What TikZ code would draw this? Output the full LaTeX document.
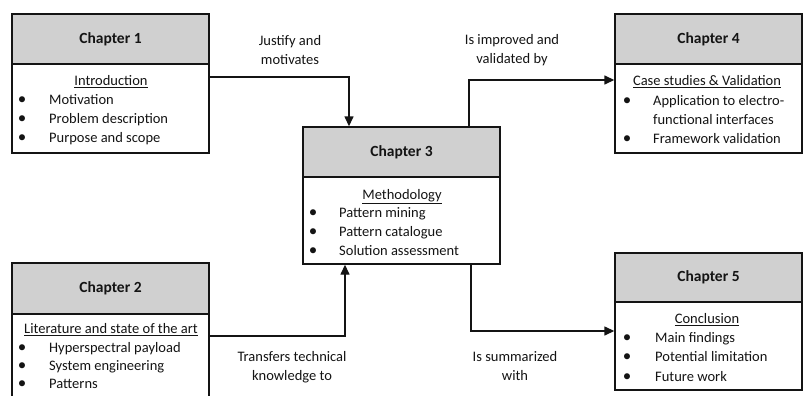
\documentclass[tikz,border=0pt]{standalone}
\usepackage{fontspec}
\setmainfont{Carlito}
\usetikzlibrary{arrows.meta}
\definecolor{headgray}{RGB}{208,208,208}
\definecolor{ink}{RGB}{20,20,20}
\begin{document}
\begin{tikzpicture}[x=1pt,y=-1pt,
  every node/.style={text=ink},
  box/.style={draw=ink, line width=1.4pt, inner sep=0pt},
  head/.style={box, fill=headgray, font=\fontsize{15.5}{18}\selectfont\bfseries},
  body/.style={box, fill=white},
  item/.style={anchor=mid west, inner sep=0pt, yshift=-2pt, font=\fontsize{14.5}{17}\selectfont},
  dot/.style={anchor=mid, inner sep=0pt, yshift=-2pt, font=\fontsize{17}{17}\selectfont},
  title/.style={anchor=mid, inner sep=0pt, yshift=-2pt, font=\fontsize{14.5}{17}\selectfont},
  lbl/.style={align=center, inner sep=0pt, font=\fontsize{14.5}{19}\selectfont},
  arr/.style={draw=ink, line width=1.4pt, -{Triangle[length=10pt,width=9pt]}}]
\clip (0,0) rectangle (803,396);
\fill[white] (0,0) rectangle (803,396);

% Chapter 1
\node[head, minimum width=197, minimum height=50] (c1h) at (110.5,39) {Chapter 1};
\node[body, minimum width=197, minimum height=89] (c1b) at (110.5,108.5) {};
\node[title] (c1t) at (111,81) {\underline{Introduction}};
\node[dot] (c1d1) at (22,100) {•}; \node[item] (c1i1) at (49,100) {Motivation};
\node[dot] (c1d2) at (22,119) {•}; \node[item] (c1i2) at (49,119) {Problem description};
\node[dot] (c1d3) at (22,138) {•}; \node[item] (c1i3) at (49,138) {Purpose and scope};

% Chapter 2
\node[head, minimum width=197, minimum height=51] (c2h) at (110.5,288.5) {Chapter 2};
\node[body, minimum width=197, minimum height=96] (c2b) at (110.5,362) {};
\node[title] (c2t) at (111,329.5) {\underline{Literature and state of the art}};
\node[dot] (c2d1) at (22,348) {•}; \node[item] (c2i1) at (49,348) {Hyperspectral payload};
\node[dot] (c2d2) at (22,366) {•}; \node[item] (c2i2) at (49,366) {System engineering};
\node[dot] (c2d3) at (22,384) {•}; \node[item] (c2i3) at (49,384) {Patterns};

% Chapter 3
\node[head, minimum width=197, minimum height=50] (c3h) at (401.5,152) {Chapter 3};
\node[body, minimum width=197, minimum height=87] (c3b) at (401.5,220.5) {};
\node[title] (c3t) at (402,195) {\underline{Methodology}};
\node[dot] (c3d1) at (313,213) {•}; \node[item] (c3i1) at (339,213) {Pattern mining};
\node[dot] (c3d2) at (313,232) {•}; \node[item] (c3i2) at (339,232) {Pattern catalogue};
\node[dot] (c3d3) at (313,251) {•}; \node[item] (c3i3) at (339,251) {Solution assessment};

% Chapter 4
\node[head, minimum width=187, minimum height=50] (c4h) at (708.5,39) {Chapter 4};
\node[body, minimum width=187, minimum height=89] (c4b) at (708.5,108.5) {};
\node[title] (c4t) at (707,81) {\underline{Case studies \& Validation}};
\node[dot] (c4d1) at (627,101) {•}; \node[item] (c4i1) at (653,101) {Application to electro-};
\node[item] (c4i2) at (653,120) {functional interfaces};
\node[dot] (c4d3) at (627,139) {•}; \node[item] (c4i3) at (653,139) {Framework validation};

% Chapter 5
\node[head, minimum width=187, minimum height=49] (c5h) at (708.5,277.5) {Chapter 5};
\node[body, minimum width=187, minimum height=88] (c5b) at (708.5,346) {};
\node[title] (c5t) at (707,319) {\underline{Conclusion}};
\node[dot] (c5d1) at (627,338) {•}; \node[item] (c5i1) at (655,338) {Main findings};
\node[dot] (c5d2) at (627,357) {•}; \node[item] (c5i2) at (655,357) {Potential limitation};
\node[dot] (c5d3) at (627,377) {•}; \node[item] (c5i3) at (655,377) {Future work};

% Connectors
\draw[arr] (c1b.east |- 0,77) -| (349,0 |- c3h.north);
\draw[arr] (469,0 |- c3h.north) |- (c4b.west |- 0,80);
\draw[arr] (c2b.east |- 0,336) -| (345,0 |- c3b.south);
\draw[arr] (471,0 |- c3b.south) |- (c5b.west |- 0,331);

% Connector labels
\node[lbl] (l13) at (290,50) {Justify and\\motivates};
\node[lbl] (l34) at (512,50) {Is improved and\\validated by};
\node[lbl] (l23) at (292,367) {Transfers technical\\knowledge to};
\node[lbl] (l35) at (515,366) {Is summarized\\with};
\end{tikzpicture}
\end{document}
